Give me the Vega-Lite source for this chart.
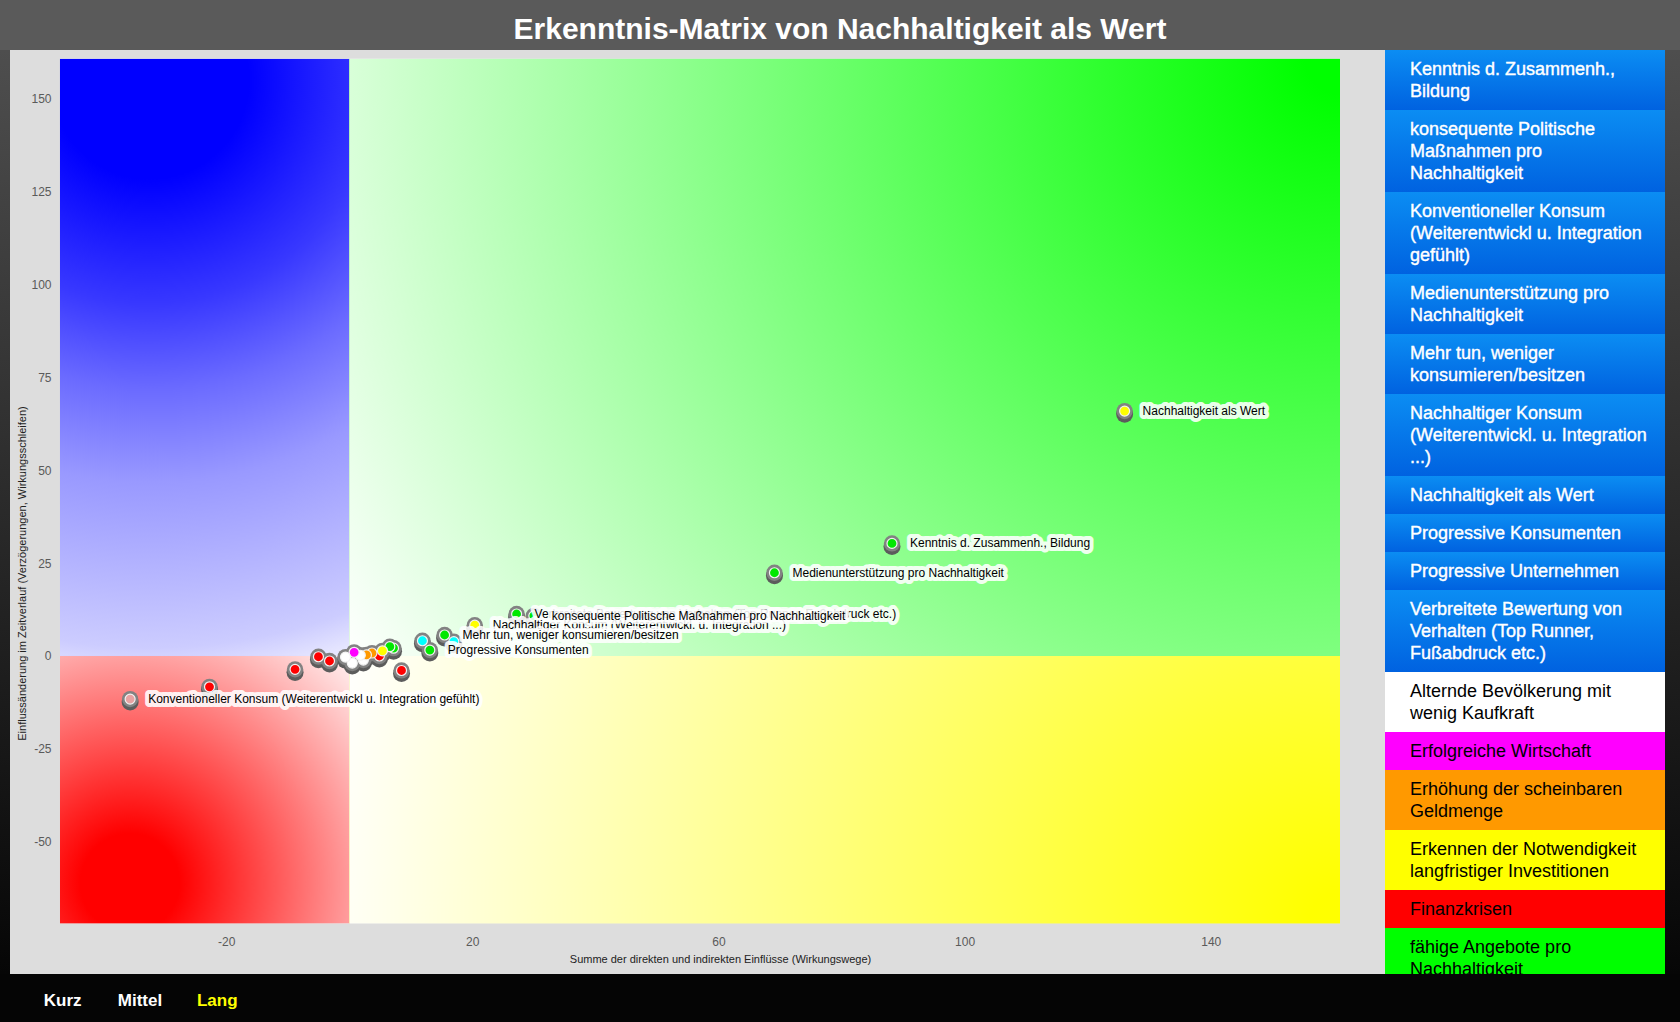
{
  "$schema": "https://vega.github.io/schema/vega-lite/v6.json",
  "background": "#000000",
  "padding": 0,
  "autosize": {"type": "pad"},
  "config": {"view": {"stroke": null}, "font": "Liberation Sans", "concat": {"spacing": 0}},
  "datasets": {
    "punkte": [
      {"x": -35.6, "y": -11.6, "gruppe": "rosa", "label": "Konventioneller Konsum (Weiterentwickl u. Integration gefühlt)"},
      {"x": -22.7, "y": -8.3, "gruppe": "rot"},
      {"x": -8.8, "y": -3.6, "gruppe": "rot"},
      {"x": -5.0, "y": -0.2, "gruppe": "rot"},
      {"x": -3.2, "y": -1.35, "gruppe": "rot"},
      {"x": 0.5, "y": -1.9, "gruppe": "weiß"},
      {"x": 2.3, "y": -1.1, "gruppe": "weiß"},
      {"x": 4.9, "y": 0.0, "gruppe": "rot"},
      {"x": 3.7, "y": 0.8, "gruppe": "orange"},
      {"x": 2.8, "y": 0.3, "gruppe": "orange"},
      {"x": 1.8, "y": 0.2, "gruppe": "weiß"},
      {"x": 0.8, "y": 1.0, "gruppe": "magenta"},
      {"x": -0.6, "y": -0.3, "gruppe": "weiß"},
      {"x": 7.2, "y": 2.1, "gruppe": "grün"},
      {"x": 6.6, "y": 2.5, "gruppe": "grün"},
      {"x": 5.4, "y": 1.4, "gruppe": "gelb"},
      {"x": 8.5, "y": -3.9, "gruppe": "rot"},
      {"x": 17.0, "y": 3.85, "gruppe": "cyan"},
      {"x": 11.9, "y": 4.1, "gruppe": "cyan"},
      {"x": 13.1, "y": 1.6, "gruppe": "grün", "label": "Progressive Konsumenten"},
      {"x": 15.5, "y": 5.65, "gruppe": "grün", "label": "Mehr tun, weniger konsumieren/besitzen"},
      {"x": 20.4, "y": 8.3, "gruppe": "gelb", "label": "Nachhaltiger Konsum (Weiterentwickl. u. Integration ...)"},
      {"x": 30.0, "y": 10.8, "gruppe": "grün", "label": "konsequente Politische Maßnahmen pro Nachhaltigkeit"},
      {"x": 27.2, "y": 11.3, "gruppe": "grün", "label": "Verbreitete Bewertung von Verhalten (Top Runner, Fußabdruck etc.)"},
      {"x": 69.1, "y": 22.4, "gruppe": "grün", "label": "Medienunterstützung pro Nachhaltigkeit"},
      {"x": 88.2, "y": 30.3, "gruppe": "grün", "label": "Kenntnis d. Zusammenh., Bildung"},
      {"x": 126.0, "y": 65.9, "gruppe": "gelb", "label": "Nachhaltigkeit als Wert"}
    ],
    "quadranten": [
      {"q": "blau", "x": -47, "x2": 0, "y": 0, "y2": 160.7},
      {"q": "gruen", "x": 0, "x2": 161, "y": 0, "y2": 160.7},
      {"q": "rot", "x": -47, "x2": 0, "y": -72, "y2": 0},
      {"q": "gelb", "x": 0, "x2": 161, "y": -72, "y2": 0}
    ],
    "liste": [
      {"nr": 1, "aktiv": true, "text": "Kenntnis d. Zusammenh.,\nBildung"},
      {"nr": 2, "aktiv": true, "text": "konsequente Politische\nMaßnahmen pro\nNachhaltigkeit"},
      {"nr": 3, "aktiv": true, "text": "Konventioneller Konsum\n(Weiterentwickl u. Integration\ngefühlt)"},
      {"nr": 4, "aktiv": true, "text": "Medienunterstützung pro\nNachhaltigkeit"},
      {"nr": 5, "aktiv": true, "text": "Mehr tun, weniger\nkonsumieren/besitzen"},
      {"nr": 6, "aktiv": true, "text": "Nachhaltiger Konsum\n(Weiterentwickl. u. Integration\n...)"},
      {"nr": 7, "aktiv": true, "text": "Nachhaltigkeit als Wert"},
      {"nr": 8, "aktiv": true, "text": "Progressive Konsumenten"},
      {"nr": 9, "aktiv": true, "text": "Progressive Unternehmen"},
      {"nr": 10, "aktiv": true, "text": "Verbreitete Bewertung von\nVerhalten (Top Runner,\nFußabdruck etc.)"},
      {"nr": 11, "aktiv": false, "gruppe": "weiß", "text": "Alternde Bevölkerung mit\nwenig Kaufkraft"},
      {"nr": 12, "aktiv": false, "gruppe": "magenta", "text": "Erfolgreiche Wirtschaft"},
      {"nr": 13, "aktiv": false, "gruppe": "orange", "text": "Erhöhung der scheinbaren\nGeldmenge"},
      {"nr": 14, "aktiv": false, "gruppe": "gelb", "text": "Erkennen der Notwendigkeit\nlangfristiger Investitionen"},
      {"nr": 15, "aktiv": false, "gruppe": "rot", "text": "Finanzkrisen"},
      {"nr": 16, "aktiv": false, "gruppe": "grün", "text": "fähige Angebote pro\nNachhaltigkeit"}
    ],
    "dauer": [{"dauer": "Kurz"}, {"dauer": "Mittel"}, {"dauer": "Lang"}]
  },
  "spacing": 0,
  "resolve": {"scale": {"color": "independent"}},
  "vconcat": [
    {
      "width": 1680, "height": 50,
      "view": {"fill": "#5a5a5a", "stroke": null},
      "data": {"values": [{"titel": "Erkenntnis-Matrix von Nachhaltigkeit als Wert"}]},
      "mark": {"type": "text", "fontSize": 30, "fontWeight": "bold", "font": "Liberation Sans", "fill": "#ffffff", "baseline": "alphabetic", "align": "center", "dy": 14, "opacity": 1},
      "encoding": {"text": {"field": "titel", "type": "nominal"}}
    },
    {
      "spacing": 0,
      "bounds": "flush",
      "resolve": {"scale": {"color": "independent"}},
      "hconcat": [
        {
          "width": 10, "height": 924,
          "data": {"values": [{}]},
          "mark": {"type": "rect", "fill": {"gradient": "linear", "x1": 0, "y1": 0, "x2": 0, "y2": 1, "stops": [{"offset": 0, "color": "#4e4e4e"}, {"offset": 1, "color": "#060606"}]}},
          "encoding": {
            "x": {"datum": 0, "type": "quantitative", "scale": {"domain": [0, 1], "nice": false, "zero": false}, "axis": null},
            "x2": {"datum": 1},
            "y": {"datum": 0, "type": "quantitative", "scale": {"domain": [0, 1], "nice": false, "zero": false}, "axis": null},
            "y2": {"datum": 1}
          }
        },
        {
          "width": 1375, "height": 924,
          "view": {"fill": "#dddddd", "stroke": null},
          "encoding": {
            "x": {"field": "x", "type": "quantitative",
              "scale": {"domain": [-55.12, 168.31], "nice": false, "zero": false},
              "axis": {"values": [-20, 20, 60, 100, 140], "labelExpr": "'' + datum.value", "title": "Summe der direkten und indirekten Einflüsse (Wirkungswege)", "grid": false, "ticks": false, "tickSize": 0, "domain": false, "labelPadding": 0, "labelBaseline": "top", "offset": -37.5, "labelColor": "#5a5a5a", "labelFontSize": 12, "labelFont": "Liberation Sans", "titleFont": "Liberation Sans", "titleFontSize": 11, "titleFontWeight": "normal", "titleColor": "#222222", "titleX": 710, "titleY": 26, "titleBaseline": "alphabetic", "titleAlign": "center"}},
            "y": {"field": "y", "type": "quantitative",
              "scale": {"domain": [-85.58, 163.08], "nice": false, "zero": false},
              "axis": {"values": [-50, -25, 0, 25, 50, 75, 100, 125, 150], "labelExpr": "'' + datum.value", "title": "Einflussänderung im Zeitverlauf (Verzögerungen, Wirkungsschleifen)", "grid": false, "ticks": false, "tickSize": 0, "domain": false, "labelPadding": 0, "offset": -41, "labelColor": "#5a5a5a", "labelFontSize": 12, "labelFont": "Liberation Sans", "titleFont": "Liberation Sans", "titleFontSize": 11, "titleFontWeight": "normal", "titleColor": "#222222", "titleX": -26, "titleY": 523, "titleAngle": 270, "titleBaseline": "alphabetic", "titleAlign": "center"}}
          },
          "layer": [
            {"data": {"name": "quadranten"}, "transform": [{"filter": "datum.q === 'blau'"}],
             "mark": {"type": "rect", "fill": {"gradient": "radial", "x1": 0.4086, "y1": 0.0355, "r1": 0, "x2": 0.4086, "y2": 0.0355, "r2": 1.105, "stops": [{"offset": 0, "color": "#0000ff"}, {"offset": 0.15, "color": "#0000ff"}, {"offset": 0.34, "color": "#3838ff"}, {"offset": 0.47, "color": "#6b6bff"}, {"offset": 0.61, "color": "#9999ff"}, {"offset": 0.86, "color": "#ccccff"}, {"offset": 0.93, "color": "#f0f0ff"}, {"offset": 1, "color": "#ffffff"}]}},
             "encoding": {"x2": {"field": "x2"}, "y2": {"field": "y2"}}},
            {"data": {"name": "quadranten"}, "transform": [{"filter": "datum.q === 'gruen'"}],
             "mark": {"type": "rect", "fill": {"gradient": "radial", "x1": 1, "y1": 0.1986, "r1": 0, "x2": 1, "y2": 0.1986, "r2": 1.171, "stops": [{"offset": 0, "color": "#00ff00"}, {"offset": 0.03, "color": "#00ff00"}, {"offset": 1, "color": "#ffffff"}]}},
             "encoding": {"x2": {"field": "x2"}, "y2": {"field": "y2"}}},
            {"data": {"name": "quadranten"}, "transform": [{"filter": "datum.q === 'rot'"}],
             "mark": {"type": "rect", "fill": {"gradient": "radial", "x1": 0.242, "y1": 0.822, "r1": 0, "x2": 0.242, "y2": 0.822, "r2": 1.141, "stops": [{"offset": 0, "color": "#ff0000"}, {"offset": 0.15, "color": "#ff0000"}, {"offset": 1, "color": "#ffffff"}]}},
             "encoding": {"x2": {"field": "x2"}, "y2": {"field": "y2"}}},
            {"data": {"name": "quadranten"}, "transform": [{"filter": "datum.q === 'gelb'"}],
             "mark": {"type": "rect", "fill": {"gradient": "radial", "x1": 1, "y1": 0.635, "r1": 0, "x2": 1, "y2": 0.635, "r2": 1.04, "stops": [{"offset": 0, "color": "#ffff00"}, {"offset": 0.03, "color": "#ffff00"}, {"offset": 1, "color": "#ffffff"}]}},
             "encoding": {"x2": {"field": "x2"}, "y2": {"field": "y2"}}},
            {"data": {"name": "punkte"}, "mark": {"type": "circle", "size": 290, "color": "#5c5c5c", "yOffset": 3, "opacity": 1}},
            {"data": {"name": "punkte"}, "mark": {"type": "circle", "size": 265, "color": "#828282", "opacity": 1}},
            {"data": {"name": "punkte"}, "mark": {"type": "circle", "size": 100, "stroke": "#f2f2f2", "strokeWidth": 1.2, "opacity": 1},
             "encoding": {"color": {"field": "gruppe", "type": "nominal", "scale": {"domain": ["grün", "gelb", "rot", "cyan", "weiß", "magenta", "orange", "rosa"], "range": ["#00e800", "#ffff00", "#ff0000", "#00ffff", "#ffffff", "#ff00ff", "#ff9900", "#e8a3a3"]}, "legend": null}}},
            {"data": {"name": "punkte"}, "transform": [{"filter": "isValid(datum.label) && indexof(['Verbreitete Bewertung von Verhalten (Top Runner, Fußabdruck etc.)', 'Nachhaltiger Konsum (Weiterentwickl. u. Integration ...)'], datum.label) >= 0"}],
             "mark": {"type": "text", "align": "left", "baseline": "middle", "dx": 18, "fontSize": 12, "fill": "#ffffff", "stroke": "#ffffff", "strokeWidth": 8, "strokeJoin": "round", "opacity": 0.88},
             "encoding": {"text": {"field": "label"}}},
            {"data": {"name": "punkte"}, "transform": [{"filter": "isValid(datum.label) && indexof(['Verbreitete Bewertung von Verhalten (Top Runner, Fußabdruck etc.)', 'Nachhaltiger Konsum (Weiterentwickl. u. Integration ...)'], datum.label) >= 0"}],
             "mark": {"type": "text", "align": "left", "baseline": "middle", "dx": 18, "fontSize": 12, "fill": "#000000", "opacity": 1},
             "encoding": {"text": {"field": "label"}}},
            {"data": {"name": "punkte"}, "transform": [{"filter": "isValid(datum.label) && indexof(['Verbreitete Bewertung von Verhalten (Top Runner, Fußabdruck etc.)', 'Nachhaltiger Konsum (Weiterentwickl. u. Integration ...)'], datum.label) < 0"}],
             "mark": {"type": "text", "align": "left", "baseline": "middle", "dx": 18, "fontSize": 12, "fill": "#ffffff", "stroke": "#ffffff", "strokeWidth": 8, "strokeJoin": "round", "opacity": 0.88},
             "encoding": {"text": {"field": "label"}}},
            {"data": {"name": "punkte"}, "transform": [{"filter": "isValid(datum.label) && indexof(['Verbreitete Bewertung von Verhalten (Top Runner, Fußabdruck etc.)', 'Nachhaltiger Konsum (Weiterentwickl. u. Integration ...)'], datum.label) < 0"}],
             "mark": {"type": "text", "align": "left", "baseline": "middle", "dx": 18, "fontSize": 12, "fill": "#000000", "opacity": 1},
             "encoding": {"text": {"field": "label"}}}
          ]
        },
        {
          "width": 280, "height": 924,
          "data": {"name": "liste"},
          "transform": [
            {"calculate": "16 + 22 * length(split(datum.text, '\\n'))", "as": "h"},
            {"window": [{"op": "sum", "field": "h", "as": "unten"}], "sort": [{"field": "nr", "order": "ascending"}]},
            {"calculate": "datum.unten - datum.h", "as": "oben"}
          ],
          "encoding": {
            "x": {"datum": 0, "type": "quantitative", "scale": {"domain": [0, 1], "nice": false, "zero": false}, "axis": null},
            "y": {"field": "oben", "type": "quantitative", "scale": {"domain": [0, 924], "nice": false, "zero": false, "reverse": true}, "axis": null}
          },
          "layer": [
            {"transform": [{"filter": "datum.aktiv"}],
             "mark": {"type": "rect", "clip": true, "fill": {"gradient": "linear", "x1": 0, "y1": 0, "x2": 0, "y2": 1, "stops": [{"offset": 0, "color": "#0b8df3"}, {"offset": 1, "color": "#0062e0"}]}},
             "encoding": {"x2": {"datum": 1}, "y2": {"field": "unten"}}},
            {"transform": [{"filter": "!datum.aktiv"}],
             "mark": {"type": "rect", "clip": true},
             "encoding": {"x2": {"datum": 1}, "y2": {"field": "unten"},
               "color": {"field": "gruppe", "type": "nominal", "scale": {"domain": ["weiß", "magenta", "orange", "gelb", "rot", "grün"], "range": ["#ffffff", "#ff00ff", "#ff9900", "#ffff00", "#ff0000", "#00ff00"]}, "legend": null}}},
            {"transform": [{"filter": "datum.aktiv"}],
             "mark": {"type": "text", "clip": true, "align": "left", "baseline": "top", "dx": 25, "dy": 11, "fontSize": 18, "font": "Liberation Sans", "lineBreak": "\n", "lineHeight": 22, "fill": "#ffffff", "stroke": "#ffffff", "strokeWidth": 0.4, "opacity": 1},
             "encoding": {"text": {"field": "text"}}},
            {"transform": [{"filter": "!datum.aktiv"}],
             "mark": {"type": "text", "clip": true, "align": "left", "baseline": "top", "dx": 25, "dy": 11, "fontSize": 18, "font": "Liberation Sans", "lineBreak": "\n", "lineHeight": 22, "fill": "#000000", "opacity": 1},
             "encoding": {"text": {"field": "text"}}}
          ]
        },
        {
          "width": 15, "height": 924,
          "data": {"values": [{}]},
          "mark": {"type": "rect", "fill": {"gradient": "linear", "x1": 0, "y1": 0, "x2": 0, "y2": 1, "stops": [{"offset": 0, "color": "#4e4e4e"}, {"offset": 1, "color": "#060606"}]}},
          "encoding": {
            "x": {"datum": 0, "type": "quantitative", "scale": {"domain": [0, 1], "nice": false, "zero": false}, "axis": null},
            "x2": {"datum": 1},
            "y": {"datum": 0, "type": "quantitative", "scale": {"domain": [0, 1], "nice": false, "zero": false}, "axis": null},
            "y2": {"datum": 1}
          }
        }
      ]
    },
    {
      "spacing": 0,
      "bounds": "flush",
      "resolve": {"scale": {"color": "independent"}},
      "hconcat": [
        {
          "width": 280, "height": 48,
          "view": {"fill": "#050505", "stroke": null},
          "data": {"name": "dauer"},
          "mark": {"type": "text", "fontSize": 17, "fontWeight": "bold", "font": "Liberation Sans", "baseline": "alphabetic", "align": "center", "dy": 8, "opacity": 1},
          "encoding": {
            "x": {"field": "dauer", "type": "nominal", "sort": null, "scale": {"type": "point", "padding": 0.812, "domain": ["Kurz", "Mittel", "Lang"]}, "axis": null},
            "text": {"field": "dauer"},
            "color": {"field": "dauer", "type": "nominal", "scale": {"domain": ["Kurz", "Mittel", "Lang"], "range": ["#ffffff", "#ffffff", "#ffff00"]}, "legend": null}
          }
        },
        {
          "width": 1400, "height": 48,
          "view": {"fill": "#050505", "stroke": null},
          "data": {"values": [{}]},
          "mark": {"type": "text", "text": ""},
          "encoding": {}
        }
      ]
    }
  ]
}
